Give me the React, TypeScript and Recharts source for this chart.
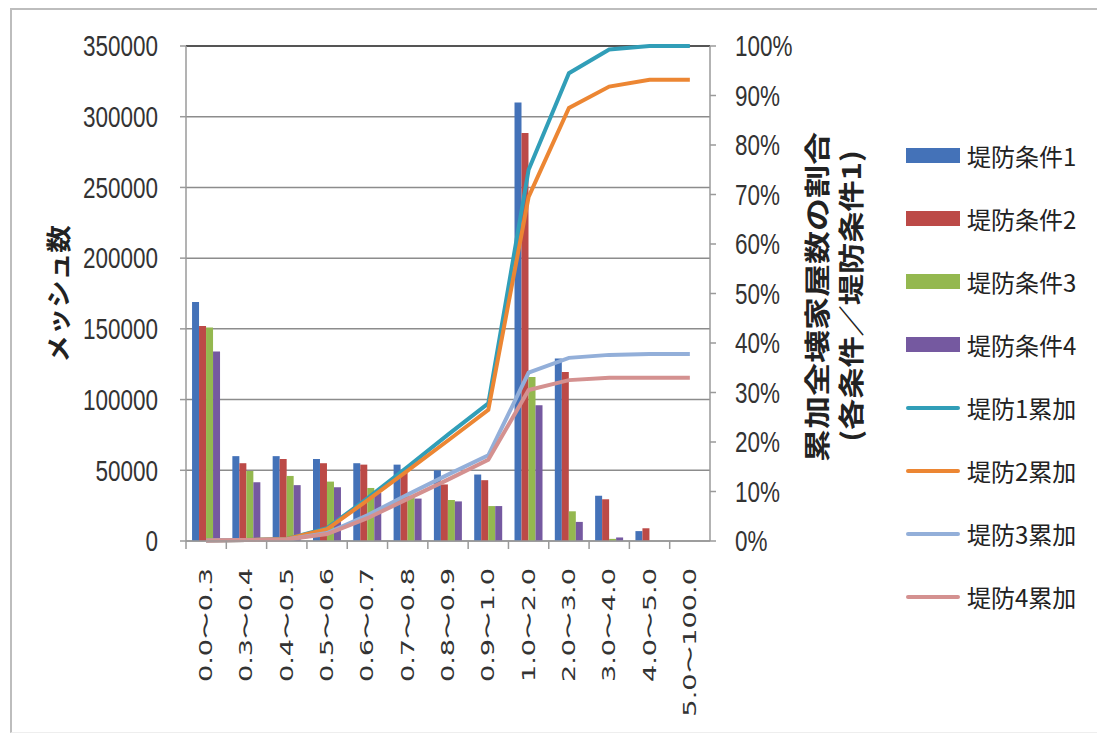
import React from "react";
import {
  ComposedChart, Bar, Line, XAxis, YAxis, CartesianGrid, ReferenceLine, Label,
} from "recharts";

// 浸水深ランク
const ranges = [
  "0.0〜0.3", "0.3〜0.4", "0.4〜0.5", "0.5〜0.6", "0.6〜0.7", "0.7〜0.8",
  "0.8〜0.9", "0.9〜1.0", "1.0〜2.0", "2.0〜3.0", "3.0〜4.0", "4.0〜5.0", "5.0〜100.0",
];

// メッシュ数（堤防条件別）
const cond1 = [169000, 60000, 60000, 58000, 55000, 54000, 50000, 47000, 310000, 129000, 32000, 7000, 0];
const cond2 = [152000, 55000, 58000, 55000, 54000, 50000, 40000, 43000, 288500, 119500, 29500, 9000, 0];
const cond3 = [151000, 49500, 46000, 42000, 37500, 32000, 29000, 24700, 116000, 21000, 1500, 0, 0];
const cond4 = [134000, 41500, 39500, 38000, 34000, 30000, 28000, 24700, 96000, 13500, 2500, 0, 0];

// 累加全壊家屋数の割合 (%)
const cum1 = [0.1, 0.2, 0.4, 2.6, 8.6, 15, 21.5, 27.8, 75, 94.5, 99.3, 100, 100];
const cum2 = [0.1, 0.2, 0.4, 2.4, 8.2, 14.2, 20.3, 26.5, 69.5, 87.5, 91.8, 93.2, 93.2];
const cum3 = [0.1, 0.2, 0.3, 1.6, 5.2, 9.4, 13.4, 17.3, 34, 37, 37.6, 37.8, 37.8];
const cum4 = [0.1, 0.2, 0.3, 1.4, 4.6, 8.5, 12.4, 16.4, 30.5, 32.5, 33, 33, 33];

const countTicks = [0, 50000, 100000, 150000, 200000, 250000, 300000, 350000];
const pctTicks = [0, 10, 20, 30, 40, 50, 60, 70, 80, 90, 100];

const barSeries = [
  { key: "c1", name: "堤防条件1", color: "#4472B8" },
  { key: "c2", name: "堤防条件2", color: "#BC4A47" },
  { key: "c3", name: "堤防条件3", color: "#94B84F" },
  { key: "c4", name: "堤防条件4", color: "#7559A0" },
];
const lineSeries = [
  { key: "k1", name: "堤防1累加", color: "#319EB8" },
  { key: "k2", name: "堤防2累加", color: "#EC8633" },
  { key: "k3", name: "堤防3累加", color: "#93AFD9" },
  { key: "k4", name: "堤防4累加", color: "#D49190" },
];

const data = ranges.map((range, i) => ({
  range,
  c1: cond1[i], c2: cond2[i], c3: cond3[i], c4: cond4[i],
  k1: cum1[i], k2: cum2[i], k3: cum3[i], k4: cum4[i],
}));

const W = 1097;
const H = 741;
const LEFT_W = 186;
const RIGHT_W = 387;
const TOP = 46;
const X_H = 200;
const PLOT_W = W - LEFT_W - RIGHT_W;
const STEP = PLOT_W / ranges.length;

const TEXT = "#333";
const AXIS = "#9a9a9a";
const GRID = "#8c8c8c";
const NUM_FONT = "'Liberation Sans', Arial, sans-serif";
const JP_FONT = "'Noto Sans CJK JP', 'Noto Sans', sans-serif";

const LeftTick = ({ x, y, payload }: any) => (
  <text
    transform={`translate(${x},${y}) scale(1,1.35)`}
    textAnchor="end" dominantBaseline="central"
    fontSize={22.5} fontFamily={NUM_FONT} fill={TEXT}
  >
    {payload.value}
  </text>
);

const RightTick = ({ x, y, payload }: any) => (
  <text
    transform={`translate(${x},${y}) scale(1,1.35)`}
    textAnchor="start" dominantBaseline="central"
    fontSize={22.5} fontFamily={NUM_FONT} fill={TEXT}
  >
    {`${payload.value}%`}
  </text>
);

// category labels read bottom-to-top; tick marks sit on the category boundaries
const RangeTick = ({ x, y, payload }: any) => {
  const axisY = y - 8 - 19;
  const bx = x - STEP / 2;
  return (
    <g>
      <line x1={bx} x2={bx} y1={axisY} y2={axisY + 8} stroke={AXIS} strokeWidth={1.5} />
      <text
        transform={`translate(${x},${y}) scale(1,1.6) rotate(-90)`}
        textAnchor="end" dominantBaseline="central"
        fontSize={17} fontFamily="'DejaVu Sans', sans-serif" fill={TEXT}
      >
        {payload.value}
      </text>
    </g>
  );
};

const LeftTitle = () => (
  <text
    transform={`translate(58,294) scale(1,1.1) rotate(-90)`}
    textAnchor="middle" dominantBaseline="central"
    fontSize={25} fontWeight="bold" fontFamily={JP_FONT} fill="#222"
  >
    メッシュ数
  </text>
);

const RightTitle = () => (
  <g fontSize={26} fontWeight="bold" fontFamily={JP_FONT} fill="#222">
    <text
      transform={`translate(816,297) scale(1,1.27) rotate(-90)`}
      textAnchor="middle" dominantBaseline="central"
    >
      累加全壊家屋数の割合
    </text>
    <text
      transform={`translate(850,296) scale(1,1.2) rotate(-90)`}
      textAnchor="middle" dominantBaseline="central"
    >
      (各条件／堤防条件1)
    </text>
  </g>
);

export default function App() {
  const legendItems = [
    ...barSeries.map((s) => ({ ...s, type: "bar" })),
    ...lineSeries.map((s) => ({ ...s, type: "line" })),
  ];

  return (
    <div style={{ position: "absolute", left: 0, top: 0, width: W, height: H, background: "#fff", overflow: "hidden" }}>
      {/* chart frame */}
      <div
        style={{
          position: "absolute", left: 10, top: 8, width: W, height: 722,
          borderLeft: "2px solid #bdbdbd", borderTop: "2px solid #bdbdbd",
          borderBottom: "1px solid #eeeeee",
        }}
      />
      <div style={{ position: "absolute", left: 0, top: 0 }}>
        <ComposedChart
          width={W}
          height={H}
          data={data}
          margin={{ top: TOP, right: 0, bottom: 0, left: 0 }}
          barCategoryGap="15%"
          barGap={0}
        >
          <CartesianGrid yAxisId="left" vertical={false} stroke={GRID} strokeWidth={1.5} />
          <XAxis
            dataKey="range"
            height={X_H}
            interval={0}
            tickLine={false}
            tickSize={8}
            tickMargin={19}
            axisLine={{ stroke: AXIS, strokeWidth: 1.5 }}
            tick={<RangeTick />}
          />
          <YAxis
            yAxisId="left"
            width={LEFT_W}
            domain={[0, 350000]}
            ticks={countTicks}
            interval={0}
            tickSize={6}
            tickMargin={22}
            axisLine={{ stroke: AXIS, strokeWidth: 1.5 }}
            tickLine={{ stroke: AXIS, strokeWidth: 1.5 }}
            tick={<LeftTick />}
          >
            <Label content={<LeftTitle />} />
          </YAxis>
          <YAxis
            yAxisId="right"
            orientation="right"
            width={RIGHT_W}
            domain={[0, 100]}
            ticks={pctTicks}
            interval={0}
            tickSize={6}
            tickMargin={19}
            axisLine={{ stroke: AXIS, strokeWidth: 1.5 }}
            tickLine={{ stroke: AXIS, strokeWidth: 1.5 }}
            tick={<RightTick />}
          >
            <Label content={<RightTitle />} />
          </YAxis>
          <ReferenceLine yAxisId="left" y={350000} stroke="#555" strokeWidth={2} />
          {barSeries.map((s) => (
            <Bar
              key={s.key}
              yAxisId="left"
              dataKey={s.key}
              name={s.name}
              fill={s.color}
              isAnimationActive={false}
            />
          ))}
          {lineSeries.map((s) => (
            <Line
              key={s.key}
              yAxisId="right"
              type="linear"
              dataKey={s.key}
              name={s.name}
              stroke={s.color}
              strokeWidth={4}
              dot={false}
              activeDot={false}
              isAnimationActive={false}
            />
          ))}
        </ComposedChart>
      </div>

      {/* Legend */}
      <div style={{ position: "absolute", left: 906, top: 124, fontFamily: JP_FONT }}>
        {legendItems.map((item) => (
          <div key={item.key} style={{ height: 63, display: "flex", alignItems: "center" }}>
            <div
              style={{
                width: 54,
                height: item.type === "bar" ? 15 : 4,
                borderRadius: item.type === "bar" ? 0 : 2,
                background: item.color,
                marginRight: 7,
              }}
            />
            <span style={{ fontSize: 24, color: "#222", whiteSpace: "nowrap" }}>{item.name}</span>
          </div>
        ))}
      </div>
    </div>
  );
}
